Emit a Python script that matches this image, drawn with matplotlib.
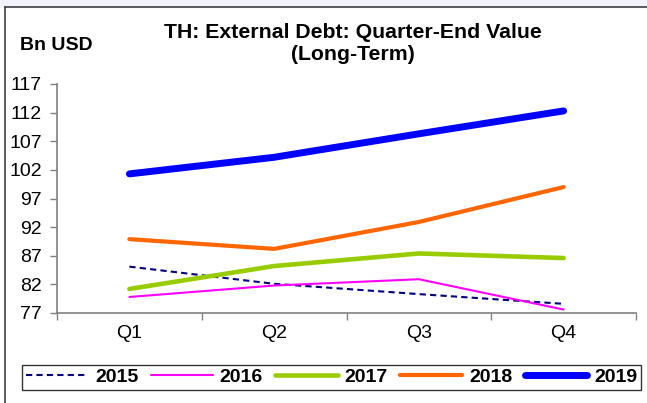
import matplotlib.pyplot as plt
from matplotlib.lines import Line2D
from matplotlib.patches import Rectangle

plt.rcParams['font.family'] = ['Liberation Sans', 'DejaVu Sans']

quarters = ['Q1', 'Q2', 'Q3', 'Q4']
years = ['2015', '2016', '2017', '2018', '2019']
debt_2015 = [85.1, 82.1, 80.3, 78.6]
debt_2016 = [79.8, 81.8, 82.9, 77.6]
debt_2017 = [81.2, 85.2, 87.4, 86.6]
debt_2018 = [89.9, 88.2, 92.9, 99.0]
debt_2019 = [101.3, 104.2, 108.3, 112.3]
y_ticks = list(range(77, 118, 5))

series = [debt_2015, debt_2016, debt_2017, debt_2018, debt_2019]
styles = [
    dict(color='#000080', lw=1.5, ls=(0, (3, 2))),
    dict(color='#ff00ff', lw=1.5, ls='-'),
    dict(color='#99cc00', lw=3.3, ls='-'),
    dict(color='#ff6600', lw=3.0, ls='-'),
    dict(color='#0000ff', lw=5.0, ls='-'),
]

fs = 14

fig = plt.figure(figsize=(6.47, 4.03), dpi=100)
W, H = 647, 403
ax = fig.add_axes([57 / W, (H - 313) / H, (636 - 57) / W, (313 - 84) / H])

x = range(1, len(quarters) + 1)
for vals, st in zip(series, styles):
    ax.plot(x, vals, color=st['color'], lw=st['lw'], ls=st['ls'],
            solid_capstyle='round', dash_capstyle='butt')

ax.set_xlim(0.5, 4.5)
ax.set_ylim(77, 117)
ax.set_yticks(y_ticks)
ax.set_xticks(list(x))
ax.set_xticklabels(quarters)
ax.set_xticks([0.5, 1.5, 2.5, 3.5, 4.5], minor=True)
ax.tick_params(axis='x', which='major', length=0, pad=9, labelsize=fs)
ax.tick_params(axis='x', which='minor', length=5, direction='out',
               color='#808080', width=1)
ax.tick_params(axis='y', length=5, direction='out', color='#808080',
               width=1, labelsize=fs, pad=6)
for side in ['top', 'right']:
    ax.spines[side].set_visible(False)
for side in ['left', 'bottom']:
    ax.spines[side].set_color('#808080')
    ax.spines[side].set_linewidth(1.2)

fig.text(353 / W, 1 - 44 / H, 'TH: External Debt: Quarter-End Value\n(Long-Term)',
         ha='center', va='center', fontsize=15.3, fontweight='bold',
         linespacing=1.2)
fig.text(20 / W, 1 - 46 / H, 'Bn USD', ha='left', va='center',
         fontsize=fs, fontweight='bold')

# outer frame (left and top edges visible in the screenshot)
fig.add_artist(Line2D([5 / W, 5 / W], [0, 1 - 7 / H], color='#404040',
                      lw=1.2, transform=fig.transFigure))
fig.add_artist(Line2D([5 / W, 1], [1 - 7 / H, 1 - 7 / H], color='#404040',
                      lw=1.2, transform=fig.transFigure))
fig.add_artist(Rectangle((0, 1 - 7 / H), 1, 7 / H, color='#f2f2fa',
                         transform=fig.transFigure, zorder=-1))

handles = [Line2D([], [], color=st['color'], lw=st['lw'], ls=st['ls'],
                  solid_capstyle='round') for st in styles]
leg = fig.legend(handles, years, loc='lower left', ncol=5, mode='expand',
                 bbox_to_anchor=(22 / W, (H - 390) / H, (641 - 22) / W, 27 / H),
                 prop=dict(size=fs, weight='bold'), frameon=True,
                 fancybox=False, handlelength=3.2, handletextpad=0.35,
                 borderpad=0.2, borderaxespad=0, columnspacing=0.6)
leg.get_frame().set_edgecolor('black')
leg.get_frame().set_linewidth(1.0)

fig.savefig('out.png', dpi=100)
